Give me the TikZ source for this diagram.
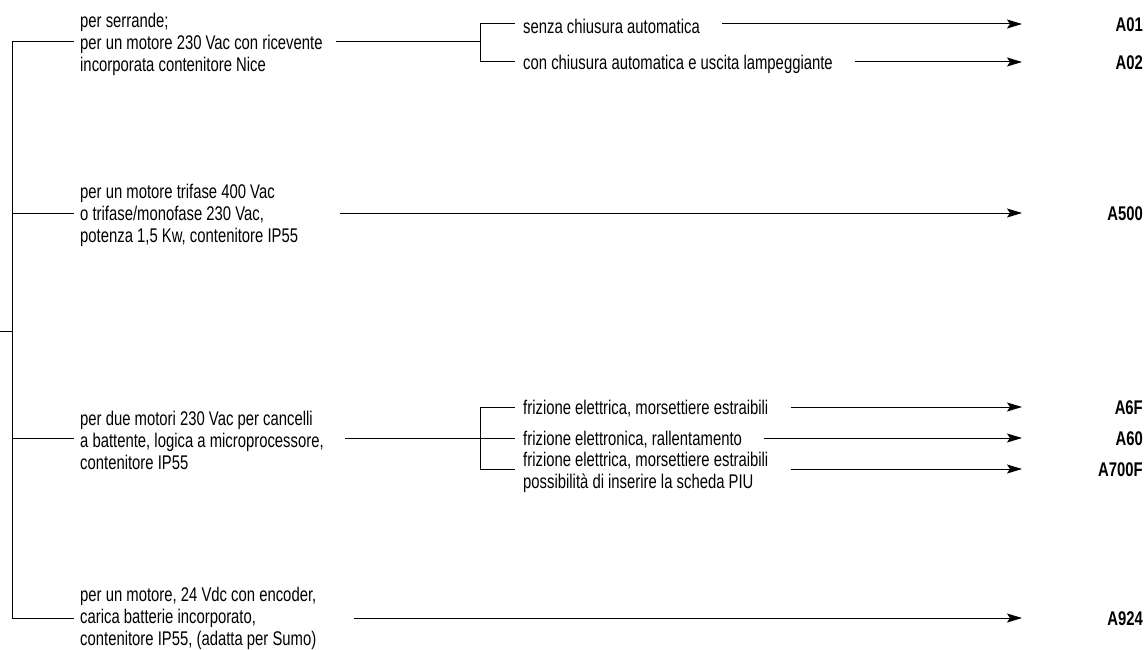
\documentclass[tikz,border=0pt]{standalone}
\usepackage{fontspec}
\setmainfont{Liberation Sans}[FakeStretch=0.75]
\usetikzlibrary{arrows.meta}
\begin{document}
\begin{tikzpicture}[x=1pt,y=-1pt,
  line/.style={draw=black,line width=1pt},
  arr/.style={line,-{Stealth[length=15pt,width=9pt,inset=3pt]}},
  desc/.style={anchor=west,inner sep=0pt,align=left,font=\fontsize{19.8}{22}\selectfont},
  code/.style={anchor=east,inner sep=0pt,font=\fontsize{19.8}{22}\selectfont\bfseries}]
\useasboundingbox (0,0) rectangle (1146,650);
% trunk
\coordinate (root) at (0,331);
\coordinate (vm) at (12,331);
\coordinate (v1) at (12,42);
\coordinate (v2) at (12,213);
\coordinate (v3) at (12,438);
\coordinate (v4) at (12,618);
\draw[line] (root) -- (vm);
\draw[line] (v1) -- (v4);
% main texts
\node[desc] (t1) at (80,44) {per serrande;\\per un motore 230 Vac con ricevente\\incorporata contenitore Nice};
\node[desc] (t2) at (80,215) {per un motore trifase 400 Vac\\o trifase/monofase 230 Vac,\\potenza 1,5 Kw, contenitore IP55};
\node[desc] (t3) at (80,440) {per due motori 230 Vac per cancelli\\a battente, logica a microprocessore,\\contenitore IP55};
\node[desc] (t4) at (80,618) {per un motore, 24 Vdc con encoder,\\carica batterie incorporato,\\contenitore IP55, (adatta per Sumo)};
\foreach \i in {1,2,3,4}{\draw[line] (v\i) -- ([xshift=-6pt]v\i -| t\i.west);}
% line starts
\coordinate (m1) at (336,42);
\coordinate (m2) at (340,213);
\coordinate (m3) at (345,438);
\coordinate (m4) at (354,618);
% sub-junctions
\coordinate (j1) at (480,42);
\coordinate (j1a) at (480,24);
\coordinate (j1b) at (480,62);
\coordinate (j3) at (480,438);
\coordinate (j3a) at (480,407);
\coordinate (j3b) at (480,469);
\draw[line] (m1) -- (j1);
\draw[line] (m3) -- (j3);
\draw[line] (j1a) -- (j1b);
\draw[line] (j3a) -- (j3b);
% sub texts
\node[desc] (s1a) at (523,26) {senza chiusura automatica};
\node[desc] (s1b) at (523,64) {con chiusura automatica e uscita lampeggiante};
\node[desc] (s3a) at (523,409) {frizione elettrica, morsettiere estraibili};
\node[desc] (s3b) at (523,440) {frizione elettronica, rallentamento};
\node[desc] (s3c) at (523,472) {frizione elettrica, morsettiere estraibili\\possibilità di inserire la scheda PIU};
\draw[line] (j1a) -- ([xshift=-8pt]j1a -| s1a.west);
\draw[line] (j1b) -- ([xshift=-8pt]j1b -| s1b.west);
\draw[line] (j3a) -- ([xshift=-8pt]j3a -| s3a.west);
\draw[line] (j3) -- ([xshift=-8pt]j3 -| s3b.west);
\draw[line] (j3b) -- ([xshift=-8pt]j3b -| s3c.west);
% arrow ends
\coordinate (e1a) at (1022,24);
\coordinate (e1b) at (1022,62);
\coordinate (e2) at (1022,213);
\coordinate (e3a) at (1022,407);
\coordinate (e3b) at (1022,438);
\coordinate (e3c) at (1022,469);
\coordinate (e4) at (1022,618);
\draw[arr] ([xshift=22pt]s1a.east |- e1a) -- (e1a);
\draw[arr] ([xshift=22pt]s1b.east |- e1b) -- (e1b);
\draw[arr] (m2) -- (e2);
\draw[arr] ([xshift=22pt]s3a.east |- e3a) -- (e3a);
\draw[arr] ([xshift=22pt]s3b.east |- e3b) -- (e3b);
\draw[arr] ([xshift=22pt]s3c.east |- e3c) -- (e3c);
\draw[arr] (m4) -- (e4);
% codes
\node[code] (c1a) at (1143,25) {A01};
\node[code] (c1b) at (1143,63) {A02};
\node[code] (c2) at (1143,214) {A500};
\node[code] (c3a) at (1143,408) {A6F};
\node[code] (c3b) at (1143,439) {A60};
\node[code] (c3c) at (1143,470) {A700F};
\node[code] (c4) at (1143,619) {A924};
\end{tikzpicture}
\end{document}
